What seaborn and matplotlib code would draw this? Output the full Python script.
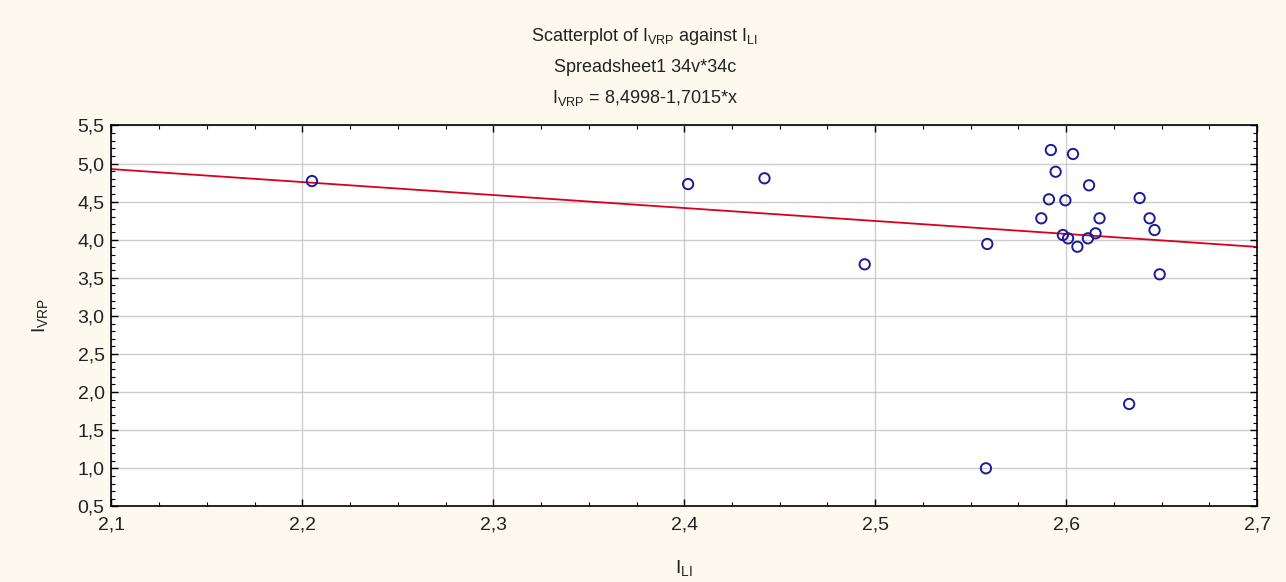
import matplotlib
matplotlib.use("Agg")
import matplotlib.pyplot as plt
from matplotlib.ticker import MultipleLocator, FuncFormatter
import numpy as np
import pandas as pd
import seaborn as sns

# Data
i_li = [2.205, 2.402, 2.442, 2.4945, 2.5587, 2.558, 2.633, 2.649,
        2.592, 2.6036, 2.5945, 2.612, 2.591, 2.5996, 2.6385, 2.587,
        2.6175, 2.6437, 2.6463, 2.5983, 2.601, 2.6059, 2.6114, 2.6154]
i_vrp = [4.77, 4.73, 4.806, 3.677, 3.944, 1.00, 1.844, 3.546,
         5.177, 5.125, 4.892, 4.714, 4.530, 4.517, 4.547, 4.281,
         4.281, 4.281, 4.127, 4.062, 4.018, 3.908, 4.018, 4.084]
intercept = 8.4998
slope = -1.7015

df = pd.DataFrame({"I_LI": i_li, "I_VRP": i_vrp})

sns.set_style("white")
plt.rcParams['font.family'] = ['Liberation Sans', 'DejaVu Sans']
plt.rcParams['mathtext.default'] = 'regular'

bg = '#fdf9ee'
fig = plt.figure(figsize=(12.86, 5.82), dpi=100, facecolor=bg)
ax = fig.add_axes([0.0867, 0.1299, 0.8908, 0.6546])
ax.set_facecolor('white')

xlim = (2.1, 2.7)
ylim = (0.5, 5.5)
xs = np.array(xlim)
ax.plot(xs, intercept + slope * xs, color='#d9001b', lw=1.3, zorder=2)

sns.scatterplot(data=df, x="I_LI", y="I_VRP", ax=ax, marker='o', s=55,
                facecolor='none', edgecolor='#1c1c96', linewidth=1.4, zorder=3)

ax.set_xlim(*xlim)
ax.set_ylim(*ylim)
ax.xaxis.set_major_locator(MultipleLocator(0.1))
ax.xaxis.set_minor_locator(MultipleLocator(0.025))
ax.yaxis.set_major_locator(MultipleLocator(0.5))
ax.yaxis.set_minor_locator(MultipleLocator(0.1))
ax.xaxis.set_major_formatter(FuncFormatter(lambda v, p: f"{v:.1f}".replace('.', ',')))
ax.yaxis.set_major_formatter(FuncFormatter(lambda v, p: f"{v:.1f}".replace('.', ',')))
ax.grid(True, which='major', color='#cccccc', lw=1.0)
ax.set_axisbelow(True)
ax.tick_params(which='both', direction='in', top=True, right=True, bottom=True, left=True,
               color='black', labelsize=14, colors='#222222')
ax.tick_params(which='major', length=5, width=1)
ax.tick_params(which='minor', length=3, width=0.8)
ax.tick_params(axis='x', pad=7)
ax.tick_params(axis='y', pad=5)
for s in ax.spines.values():
    s.set_color('black')
    s.set_linewidth(1.2)

ax.set_xlabel('I$_{LI}$', fontsize=14, labelpad=18, color='#222222')
ax.set_ylabel('I$_{VRP}$', fontsize=14, labelpad=20, color='#222222')

fig.text(0.5015, 0.938, 'Scatterplot of I$_{VRP}$ against I$_{LI}$', ha='center', va='center', fontsize=13, color='#222222')
fig.text(0.5015, 0.884, 'Spreadsheet1 34v*34c', ha='center', va='center', fontsize=13, color='#222222')
fig.text(0.5015, 0.831, 'I$_{VRP}$ = 8,4998-1,7015*x', ha='center', va='center', fontsize=13, color='#222222')

fig.savefig('out.png', dpi=100, facecolor=bg)
